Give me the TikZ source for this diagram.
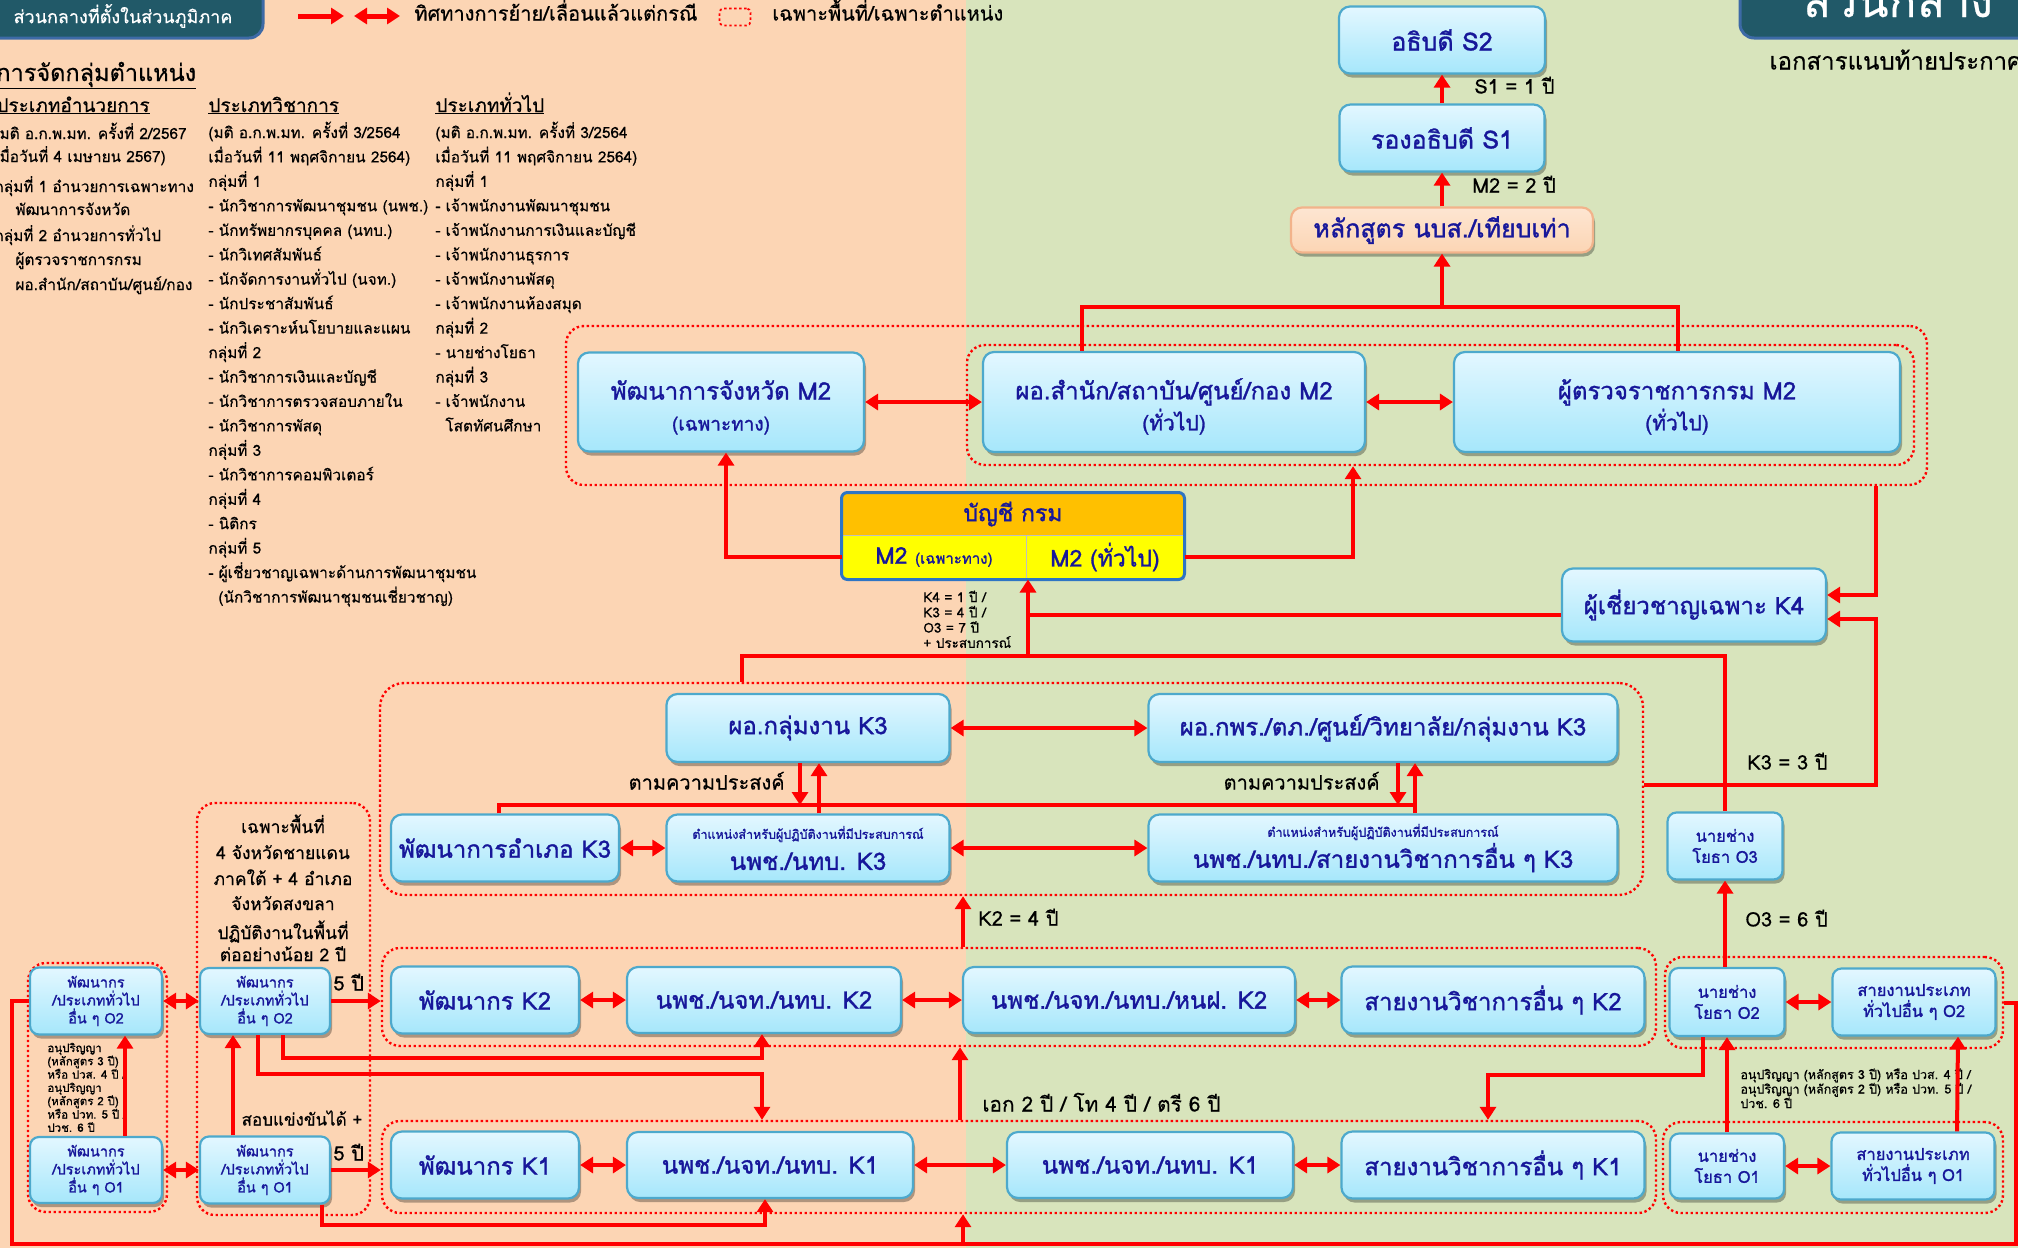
\documentclass[tikz,border=0pt]{standalone}
\usepackage{fontspec}
\setmainfont{Loma}[Script=Thai, FakeBold=0.5]
\newfontfamily\boxFace{Loma}[Script=Thai, FakeBold=1.3]
\usepackage{tikz}
\usetikzlibrary{arrows.meta,shadows}
\newcommand{\sizeTh}[2]{\fontsize{#1}{#2}\selectfont}
\newcommand{\tipLen}{13pt}
\definecolor{bgPeach}{HTML}{FCD5B4}
\definecolor{bgGreen}{HTML}{D8E4BC}
\definecolor{headTeal}{HTML}{215968}
\definecolor{headEdge}{HTML}{3D6AA6}
\definecolor{boxTop}{HTML}{E3F7FF}
\definecolor{boxBottom}{HTML}{A6E7FB}
\definecolor{boxEdge}{HTML}{4DA9CC}
\definecolor{boxText}{HTML}{17179A}
\definecolor{linkRed}{HTML}{FF0000}
\definecolor{deptOrange}{HTML}{FFC000}
\definecolor{deptYellow}{HTML}{FFFF00}
\definecolor{deptEdge}{HTML}{2E75C4}
\definecolor{courseEdge}{HTML}{F2B38B}

\begin{document}
\begin{tikzpicture}[x=1pt, y=-1pt, thick,
	posBox/.style={draw=boxEdge, line width=2.2pt, rounded corners=11pt, top color=boxTop, bottom color=boxBottom, text=boxText, align=center, inner sep=1pt, font=\boxFace\sizeTh{24}{31}, drop shadow={shadow xshift=2pt, shadow yshift=-4pt, opacity=0.3, fill=black}},
	smallBox/.style={posBox, font=\boxFace\sizeTh{16.5}{21}, rounded corners=9pt},
	tinyBox/.style={posBox, font=\boxFace\sizeTh{14.5}{18}, rounded corners=9pt},
	courseBox/.style={posBox, draw=courseEdge, top color=bgPeach!60!white, bottom color=bgPeach},
	deptCell/.style={draw=black!25, line width=1pt, text=boxText, inner sep=1pt, font=\boxFace\sizeTh{23}{28}},
	zone/.style={draw=linkRed, dash pattern=on 2.4pt off 2.6pt, line width=2.4pt, rounded corners=18pt, inner sep=0pt},
	link/.style={draw=linkRed, line width=4pt},
	arr/.style={link, -{Triangle[length=\tipLen, width=16pt]}},
	darr/.style={link, {Triangle[length=\tipLen, width=16pt]}-{Triangle[length=\tipLen, width=16pt]}},
	lbl/.style={text=black, inner sep=0pt, font=\sizeTh{20}{24}, text height=0.7em, text depth=0.2em},
	listText/.style={text=black, inner sep=0pt, anchor=base west, font=\sizeTh{15.4}{20}},
	]
	\useasboundingbox (0,0) rectangle (2018,1248);
	\fill[bgPeach] (0,0) rectangle (966,1248);
	\fill[bgGreen] (966,0) rectangle (2018,1248);

	% header and legend
	\draw[fill=headTeal, draw=headEdge, line width=3pt, rounded corners=14pt] (-30,-30) rectangle (263,38);
	\node[text=white, font=\sizeTh{18}{22}] (regionTag) at (123,16) {ส่วนกลางที่ตั้งในส่วนภูมิภาค};
	\draw[fill=headTeal, draw=headEdge, line width=3pt, rounded corners=14pt] (1740,-30) rectangle (2050,38);
	\node[text=white, font=\sizeTh{46}{50}, anchor=base] (centralTag) at (1898,17) {ส่วนกลาง};
	\node[lbl, anchor=west, font=\sizeTh{24}{28}] (attachNote) at (1769,67) {เอกสารแนบท้ายประกาศ};
	\coordinate (legOneA) at (298,16);
	\coordinate (legOneB) at (344,16);
	\coordinate (legTwoA) at (354,16);
	\coordinate (legTwoB) at (400,16);
	\draw[arr, line width=5pt] (legOneA) -- (legOneB);
	\draw[darr, line width=5pt] (legTwoA) -- (legTwoB);
	\node[lbl, anchor=west] (legMove) at (414,18) {ทิศทางการย้าย/เลื่อนแล้วแต่กรณี};
	\node[zone, line width=1.8pt, rounded corners=4pt, minimum width=31pt, minimum height=17pt] (legZone) at (735,17) {};
	\node[lbl, anchor=west] (legArea) at (772,18) {เฉพาะพื้นที่/เฉพาะตำแหน่ง};

	% grouping lists
	\node[listText, font=\sizeTh{23.5}{28}] (listTitle) at (-4,81) {\underline{การจัดกลุ่มตำแหน่ง}};
	\node[listText, font=\sizeTh{19}{22}] (listExec) at (-4,112) {\underline{ประเภทอำนวยการ}};
	\node[listText] (execA) at (-6,139) {(มติ อ.ก.พ.มท. ครั้งที่ 2/2567};
	\node[listText] (execB) at (-6,162) {เมื่อวันที่ 4 เมษายน 2567)};
	\node[listText] (execC) at (-6,192) {กลุ่มที่ 1 อำนวยการเฉพาะทาง};
	\node[listText] (execD) at (15,215) {พัฒนาการจังหวัด};
	\node[listText] (execE) at (-6,241) {กลุ่มที่ 2 อำนวยการทั่วไป};
	\node[listText] (execF) at (15,265) {ผู้ตรวจราชการกรม};
	\node[listText] (execG) at (15,290) {ผอ.สำนัก/สถาบัน/ศูนย์/กอง};
	\node[listText, font=\sizeTh{19}{22}] (listAcad) at (208,112) {\underline{ประเภทวิชาการ}};
	\foreach \txt [count=\i from 0] in {{(มติ อ.ก.พ.มท. ครั้งที่ 3/2564}, {เมื่อวันที่ 11 พฤศจิกายน 2564)}, กลุ่มที่ 1, {- นักวิชาการพัฒนาชุมชน (นพช.)}, {- นักทรัพยากรบุคคล (นทบ.)}, - นักวิเทศสัมพันธ์, {- นักจัดการงานทั่วไป (นจท.)}, - นักประชาสัมพันธ์, - นักวิเคราะห์นโยบายและแผน, กลุ่มที่ 2, - นักวิชาการเงินและบัญชี, - นักวิชาการตรวจสอบภายใน, - นักวิชาการพัสดุ, กลุ่มที่ 3, - นักวิชาการคอมพิวเตอร์, กลุ่มที่ 4, - นิติกร, กลุ่มที่ 5, - ผู้เชี่ยวชาญเฉพาะด้านการพัฒนาชุมชน, {\hspace*{10pt}(นักวิชาการพัฒนาชุมชนเชี่ยวชาญ)}}
		\node[listText] at (208,138+24.45*\i) {\txt};
	\node[listText, font=\sizeTh{19}{22}] (listGen) at (435,112) {\underline{ประเภททั่วไป}};
	\foreach \txt [count=\i from 0] in {{(มติ อ.ก.พ.มท. ครั้งที่ 3/2564}, {เมื่อวันที่ 11 พฤศจิกายน 2564)}, กลุ่มที่ 1, - เจ้าพนักงานพัฒนาชุมชน, - เจ้าพนักงานการเงินและบัญชี, - เจ้าพนักงานธุรการ, - เจ้าพนักงานพัสดุ, - เจ้าพนักงานห้องสมุด, กลุ่มที่ 2, - นายช่างโยธา, กลุ่มที่ 3, - เจ้าพนักงาน, {\hspace*{10pt}โสตทัศนศึกษา}}
		\node[listText] at (435,138+24.45*\i) {\txt};

	% dotted zones
	\node[zone, minimum width=1361pt, minimum height=159pt] (zoneM2) at (1246.5,405.5) {};
	\node[zone, minimum width=947pt, minimum height=120pt] (zoneM2gen) at (1440.5,405) {};
	\node[zone, minimum width=1263pt, minimum height=212pt, rounded corners=24pt] (zoneK3) at (1011.5,789) {};
	\node[zone, minimum width=1274pt, minimum height=98pt] (zoneK2) at (1019,997) {};
	\node[zone, minimum width=1274pt, minimum height=92pt] (zoneK1) at (1019,1167) {};
	\node[zone, minimum width=173pt, minimum height=412pt] (zoneSouth) at (283.5,1009) {};
	\node[zone, minimum width=139pt, minimum height=249pt] (zoneLeft) at (97.5,1087.5) {};
	\node[zone, minimum width=338pt, minimum height=91pt] (zoneEngO2) at (1834,1002.5) {};
	\node[zone, minimum width=340pt, minimum height=91pt] (zoneEngO1) at (1833,1167.5) {};

	% top
	\node[posBox, minimum width=206pt, minimum height=67pt, font=\boxFace\sizeTh{25}{30}] (s2) at (1442,40) {อธิบดี S2};
	\node[posBox, minimum width=205pt, minimum height=67pt, font=\boxFace\sizeTh{25}{30}] (s1) at (1442,138) {รองอธิบดี S1};
	\node[courseBox, minimum width=302pt, minimum height=45pt, font=\boxFace\sizeTh{25}{30}] (nbs) at (1442,230) {หลักสูตร นบส./เทียบเท่า};

	% M2
	\node[posBox, minimum width=286pt, minimum height=99pt] (pdProv) at (721,402) {\rule{0pt}{30pt}พัฒนาการจังหวัด M2\\{\sizeTh{19}{31}(เฉพาะทาง)}};
	\node[posBox, minimum width=382pt, minimum height=100pt] (dirOffice) at (1174,402) {\rule{0pt}{30pt}ผอ.สำนัก/สถาบัน/ศูนย์/กอง M2\\{\sizeTh{21}{31}(ทั่วไป)}};
	\node[posBox, minimum width=446pt, minimum height=100pt] (inspector) at (1677,402) {\rule{0pt}{30pt}ผู้ตรวจราชการกรม M2\\{\sizeTh{21}{31}(ทั่วไป)}};
	\node[deptCell, fill=deptOrange, minimum width=342pt, minimum height=42pt] (deptHead) at (1013,514) {บัญชี กรม};
	\node[deptCell, fill=deptYellow, minimum width=184pt, minimum height=44pt] (deptSpec) at (934,557) {M2 {\sizeTh{15}{18}(เฉพาะทาง)}};
	\node[deptCell, fill=deptYellow, minimum width=158pt, minimum height=44pt] (deptGen) at (1105,557) {M2 (ทั่วไป)};
	\draw[draw=deptEdge, line width=3pt, rounded corners=6pt] (deptHead.north west) rectangle (deptGen.south east);

	% K4 and K3
	\node[posBox, minimum width=264pt, minimum height=73pt] (expert) at (1694,605) {ผู้เชี่ยวชาญเฉพาะ K4};
	\node[posBox, minimum width=283pt, minimum height=68pt] (headK3) at (808,728) {ผอ.กลุ่มงาน K3};
	\node[posBox, minimum width=469pt, minimum height=68pt] (headOrgK3) at (1383,728) {ผอ.กพร./ตภ./ศูนย์/วิทยาลัย/กลุ่มงาน K3};
	\node[posBox, minimum width=228pt, minimum height=67pt] (districtK3) at (505,848) {พัฒนาการอำเภอ K3};
	\node[posBox, minimum width=283pt, minimum height=67pt] (cdK3) at (808,848) {{\sizeTh{12.5}{15}ตำแหน่งสำหรับผู้ปฏิบัติงานที่มีประสบการณ์}\\นพช./นทบ. K3};
	\node[posBox, minimum width=469pt, minimum height=67pt] (otherK3) at (1383,848) {{\sizeTh{12.5}{15}ตำแหน่งสำหรับผู้ปฏิบัติงานที่มีประสบการณ์}\\นพช./นทบ./สายงานวิชาการอื่น ๆ K3};
	\node[smallBox, minimum width=115pt, minimum height=67pt] (engO3) at (1725,846) {นายช่าง\\โยธา O3};

	% K2 and K1
	\node[posBox, minimum width=188pt, minimum height=67pt] (pdK2) at (485,1000) {พัฒนากร K2};
	\node[posBox, minimum width=274pt, minimum height=66pt] (cdK2) at (764,1000) {นพช./นจท./นทบ. K2};
	\node[posBox, minimum width=332pt, minimum height=66pt] (cdhK2) at (1129,1000) {นพช./นจท./นทบ./หนฝ. K2};
	\node[posBox, minimum width=303pt, minimum height=67pt] (acK2) at (1493,1000) {สายงานวิชาการอื่น ๆ K2};
	\node[posBox, minimum width=188pt, minimum height=67pt] (pdK1) at (485,1165) {พัฒนากร K1};
	\node[posBox, minimum width=286pt, minimum height=66pt] (cdK1) at (770,1165) {นพช./นจท./นทบ. K1};
	\node[posBox, minimum width=286pt, minimum height=66pt] (cdK1b) at (1150,1165) {นพช./นจท./นทบ. K1};
	\node[posBox, minimum width=303pt, minimum height=67pt] (acK1) at (1493,1165) {สายงานวิชาการอื่น ๆ K1};

	% O levels
	\node[tinyBox, minimum width=132pt, minimum height=67pt] (devO2) at (96,1001) {พัฒนากร\\/ประเภททั่วไป\\อื่น ๆ O2};
	\node[tinyBox, minimum width=132pt, minimum height=66pt] (devO1) at (96,1170) {พัฒนากร\\/ประเภททั่วไป\\อื่น ๆ O1};
	\node[tinyBox, minimum width=130pt, minimum height=66pt] (devO2s) at (265,1001) {พัฒนากร\\/ประเภททั่วไป\\อื่น ๆ O2};
	\node[tinyBox, minimum width=130pt, minimum height=67pt] (devO1s) at (265,1170) {พัฒนากร\\/ประเภททั่วไป\\อื่น ๆ O1};
	\node[smallBox, minimum width=115pt, minimum height=68pt] (engO2) at (1727,1002) {นายช่าง\\โยธา O2};
	\node[smallBox, minimum width=163pt, minimum height=67pt] (genO2) at (1914,1002) {สายงานประเภท\\ทั่วไปอื่น ๆ O2};
	\node[smallBox, minimum width=114pt, minimum height=65pt] (engO1) at (1727,1166) {นายช่าง\\โยธา O1};
	\node[smallBox, minimum width=163pt, minimum height=67pt] (genO1) at (1913,1166) {สายงานประเภท\\ทั่วไปอื่น ๆ O1};

	% labels
	\node[lbl, anchor=west] (s1Gap) at (1474,91) {S1 = 1 ปี};
	\node[lbl, anchor=west] (m2Gap) at (1472,190) {M2 = 2 ปี};
	\foreach \txt [count=\i from 0] in {K4 = 1 ปี /, K3 = 4 ปี /, O3 = 7 ปี, + ประสบการณ์}
		\node[listText, font=\sizeTh{13.5}{16}] at (923,602+15.3*\i) {\txt};
	\node[lbl, anchor=east, font=\sizeTh{20}{24}] (wishLeft) at (785,787) {ตามความประสงค์};
	\node[lbl, anchor=east, font=\sizeTh{20}{24}] (wishRight) at (1380,787) {ตามความประสงค์};
	\node[lbl, anchor=west] (k3Gap) at (1747,767) {K3 = 3 ปี};
	\node[lbl, anchor=west] (k2Gap) at (978,923) {K2 = 4 ปี};
	\node[lbl, anchor=west] (o3Gap) at (1745,924) {O3 = 6 ปี};
	\node[lbl, anchor=west, font=\sizeTh{20.8}{24}] (degreeGap) at (982,1109) {เอก 2 ปี / โท 4 ปี / ตรี 6 ปี};
	\node[lbl, anchor=west] (fiveUp) at (333,988) {5 ปี};
	\node[lbl, anchor=west] (fiveLow) at (333,1158) {5 ปี};
	\node[lbl, font=\sizeTh{17}{20}] (examNote) at (302,1123) {สอบแข่งขันได้ +};
	\foreach \y/\txt in {833/เฉพาะพื้นที่, 859/4 จังหวัดชายแดน, 885/ภาคใต้ + 4 อำเภอ, 910/จังหวัดสงขลา, 939/ปฏิบัติงานในพื้นที่, 961/ต่ออย่างน้อย 2 ปี}
		\node[listText, anchor=base, font=\sizeTh{17.5}{20}] at (283,\y) {\txt};
	\foreach \txt [count=\i from 0] in {อนุปริญญา, {(หลักสูตร 3 ปี)}, หรือ ปวส. 4 ปี /, อนุปริญญา, {(หลักสูตร 2 ปี)}, หรือ ปวท. 5 ปี /, ปวช. 6 ปี}
		\node[listText, font=\sizeTh{11.5}{13}] at (47,1052+13.3*\i) {\txt};
	\foreach \txt [count=\i from 0] in {{อนุปริญญา (หลักสูตร 3 ปี) หรือ ปวส. 4 ปี /}, {อนุปริญญา (หลักสูตร 2 ปี) หรือ ปวท. 5 ปี /}, ปวช. 6 ปี}
		\node[listText, font=\sizeTh{12.5}{14}] at (1740,1079+14.5*\i) {\txt};

	% bend points
	\coordinate (busM2) at (1442,307);
	\coordinate (busM2L) at (1082,307);
	\coordinate (busM2R) at (1678,307);
	\coordinate (specBend) at (726,557);
	\coordinate (genBend) at (1353,557);
	\coordinate (deptIn) at (1028,656);
	\coordinate (busK3L) at (742,656);
	\coordinate (busK3R) at (1725,656);
	\coordinate (k4Out) at (1028,615);
	\coordinate (rightUp) at (1876,595);
	\coordinate (k3Out) at (1876,785);
	\coordinate (k3In) at (1876,619);
	\coordinate (wishL) at (499,805);
	\coordinate (wishR) at (1415,805);
	\coordinate (wishA) at (800,805);
	\coordinate (wishB) at (819,805);
	\coordinate (wishC) at (1398,805);
	\coordinate (k2Up) at (963,0);
	\coordinate (k1Up) at (960,0);
	\coordinate (botL) at (12,1244);
	\coordinate (botR) at (2016,1244);
	\coordinate (botUp) at (963,1244);
	\coordinate (o2toK2) at (762,1058);
	\coordinate (o2toK1) at (762,1074);
	\coordinate (o1toK1) at (765,1225);
	\coordinate (engToK1) at (1488,1075);

	% connectors
	\draw[arr] (s1) -- (s2);
	\draw[arr] (nbs) -- (s1);
	\draw[link] (busM2L |- dirOffice.north) -- (busM2L) -- (busM2R) -- (busM2R |- inspector.north);
	\draw[arr] (busM2) -- (nbs);
	\draw[darr] (pdProv) -- (dirOffice);
	\draw[darr] (dirOffice) -- (inspector);
	\draw[arr] (deptSpec.west) -- (specBend) -- (specBend |- pdProv.south);
	\draw[arr] (deptGen.east) -- (genBend) -- (genBend |- zoneM2gen.south);
	\draw[arr] (deptIn) -- (deptIn |- deptSpec.south);
	\draw[link] (busK3L |- zoneK3.north) -- (busK3L) -- (busK3R) -- (busK3R |- engO3.north);
	\draw[link] (k4Out -| expert.west) -- (k4Out);
	\draw[arr] (rightUp |- zoneM2.south) -- (rightUp) -- (rightUp -| expert.east);
	\draw[arr] (k3Out -| zoneK3.east) -- (k3Out) -- (k3In) -- (k3In -| expert.east);
	\draw[darr] (headK3) -- (headOrgK3);
	\draw[darr] (districtK3) -- (cdK3);
	\draw[darr] (cdK3) -- (otherK3);
	\draw[link] (wishL |- districtK3.north) -- (wishL) -- (wishR);
	\draw[arr] (wishA |- headK3.south) -- (wishA);
	\draw[arr] (wishB |- cdK3.north) -- (wishB |- headK3.south);
	\draw[arr] (wishC |- headOrgK3.south) -- (wishC);
	\draw[arr] (wishR |- otherK3.north) -- (wishR |- headOrgK3.south);
	\draw[arr] (k2Up |- zoneK2.north) -- (k2Up |- zoneK3.south);
	\draw[darr] (pdK2) -- (cdK2);
	\draw[darr] (cdK2) -- (cdhK2);
	\draw[darr] (cdhK2) -- (acK2);
	\draw[darr] (pdK1) -- (cdK1);
	\draw[darr] (cdK1) -- (cdK1b);
	\draw[darr] (cdK1b) -- (acK1);
	\draw[arr] (k1Up |- zoneK1.north) -- (k1Up |- zoneK2.south);
	\draw[link] (devO2.west) -- (devO2.west -| botL) -- (botL) -- (botR) -- (botR |- zoneEngO2.east) -- (zoneEngO2.east);
	\draw[arr] (botUp) -- (botUp |- zoneK1.south);
	\draw[arr] ([xshift=29pt]devO1.north) -- ([xshift=29pt]devO2.south);
	\draw[darr] (devO2) -- (devO2s);
	\draw[darr] (devO1) -- (devO1s);
	\draw[arr] ([xshift=-32pt]devO1s.north) -- ([xshift=-32pt]devO2s.south);
	\draw[arr] (devO2s.east) -- (devO2s.east -| zoneK2.west);
	\draw[arr] (devO1s.east) -- (devO1s.east -| zoneK1.west);
	\draw[arr] ([xshift=18pt]devO2s.south) |- (o2toK2) -- (o2toK2 |- cdK2.south);
	\draw[arr] ([xshift=-7pt]devO2s.south) |- (o2toK1) -- (o2toK1 |- zoneK1.north);
	\draw[arr] ([xshift=57pt]devO1s.south) |- (o1toK1) -- (o1toK1 |- cdK1.south);
	\draw[arr] ([xshift=-24pt]engO2.south) |- (engToK1) -- (engToK1 |- zoneK1.north);
	\draw[arr] (engO2.north -| engO3) -- (engO3.south);
	\draw[arr] (engO1) -- (engO2);
	\draw[arr] ([xshift=44pt]genO1.north) -- ([xshift=44pt]genO2.south);
	\draw[darr] (engO2) -- (genO2);
	\draw[darr] (engO1) -- (genO1);
\end{tikzpicture}
\end{document}
